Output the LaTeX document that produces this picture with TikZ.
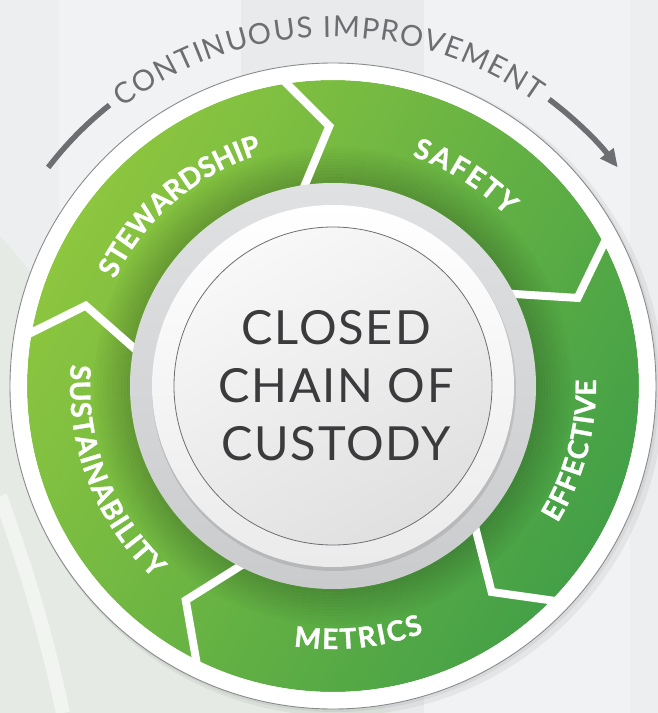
\documentclass[tikz,border=0pt]{standalone}
\usepackage{fontspec}
\setmainfont{Lato}
\newfontfamily\heavyfont[FakeBold=1.3]{Lato}
\usetikzlibrary{decorations.text,arrows.meta}
\definecolor{bgA}{HTML}{ECEEEF}
\definecolor{bgB}{HTML}{F0F2F3}
\definecolor{bgC}{HTML}{E8EAEB}
\definecolor{paleg}{HTML}{E5EBE4}
\definecolor{swoosh}{HTML}{F1F4F0}
\definecolor{rimline}{HTML}{8A8B8D}
\definecolor{gLight}{HTML}{8DC63F}
\definecolor{gDark}{HTML}{43A047}
\definecolor{bzTop}{HTML}{E0E1E3}
\definecolor{bzBot}{HTML}{CACBCD}
\definecolor{ringBot}{HTML}{EBEBEC}
\definecolor{discTop}{HTML}{F8F8F8}
\definecolor{discBot}{HTML}{E0E0E1}
\definecolor{txtdark}{HTML}{3B3B3D}
\definecolor{arrowgrey}{HTML}{6D6E71}
\newcommand\labelfnt{\heavyfont\bfseries\fontsize{28}{28}\selectfont\color{white}}
\newcommand\topfnt{\fontsize{29}{29}\selectfont\color{arrowgrey}}
\tikzset{
  gap/.style={white, line width=8pt, line join=miter},
  arcline/.style={arrowgrey, line width=5.5pt},
  lbl/.style={decorate, decoration={text along path, text align={fit to path}, text={|\labelfnt|#1}}},
  toptext/.style={decorate, decoration={text along path, text align={fit to path}, text={|\topfnt|#1}}}
}
\begin{document}
\begin{tikzpicture}[x=1pt,y=1pt]
\useasboundingbox (-333,-327) rectangle (325,386);
% background
\fill[bgA] (-333,-327) rectangle (325,386);
\fill[bgB] (-274,-327) rectangle (-92,386);
\fill[bgC] (-92,-327) rectangle (91,386);
\fill[bgB] (91,-327) rectangle (297,386);
\fill[paleg] (-333,150) .. controls (-250,60) and (-60,-250) .. (60,-327) -- (-333,-327) -- cycle;
\draw[swoosh, line width=14pt] (-333,-110) .. controls (-300,-200) and (-282,-270) .. (-270,-327);
% outer rim with shadow
\fill[black, opacity=.05] (5,-4) circle[radius=326];
\fill[black, opacity=.05] (2,-2) circle[radius=324];
\fill[white] (0,0) circle[radius=323];
\draw[rimline, line width=0.9pt] (0,0) circle[radius=323];
% green ring
\shade[top color=gLight, bottom color=gDark, shading angle=60] (0,0) circle[radius=306];
\foreach \i [evaluate=\i as \op using 0.015*(12-\i)] in {0,...,11}
  \draw[black, opacity=\op, line width=3pt] (0,0) circle[radius={204.5+3*\i}];
% white chevron gaps
\foreach \t in {100.3, 29.3, -42.9, -115, 171.5}
  \draw[gap] (\t:318) -- ({\t-9.5}:260) -- (\t:190);
\draw[white, line width=2pt] (0,0) circle[radius=307];
% bezel and centre disc
\shade[top color=bzTop, bottom color=bzBot] (0,0) circle[radius=203];
\fill[black, opacity=.10] (1,-3) circle[radius=182];
\shade[top color=white, bottom color=ringBot] (0,0) circle[radius=181];
\shade[top color=discTop, bottom color=discBot, shading angle=30] (0,0) circle[radius=159];
\draw[arrowgrey, line width=0.8pt] (0,0) circle[radius=159];
\node[font=\fontsize{47}{58}\selectfont\addfontfeature{LetterSpace=4}, text=txtdark, align=center, inner sep=0pt] (title) at (3,0) {CLOSED\\CHAIN OF\\CUSTODY};
% segment labels
\path[lbl=STEWARDSHIP] (153.9:243) arc[start angle=153.9, end angle=108, radius=243];
\path[lbl=SAFETY] (71:243) arc[start angle=71, end angle=44.5, radius=243];
\path[lbl=EFFECTIVE] (-31.4:263) arc[start angle=-31.4, end angle=1.4, radius=263];
\path[lbl=METRICS] (-98.6:263) arc[start angle=-98.6, end angle=-69.8, radius=263];
\path[lbl=SUSTAINABILITY] (175.3:263) arc[start angle=175.3, end angle=227, radius=263];
% continuous improvement arc
\path[toptext={CONTINUOUS IMPROVEMENT}] (127:349) arc[start angle=127, end angle=54.5, radius=349];
\draw[arcline] (142.5:359) arc[start angle=142.5, end angle=128.5, radius=359];
\draw[arcline, -{Triangle[length=18pt,width=16pt]}] (53:359) arc[start angle=53, end angle=37.5, radius=359];
\end{tikzpicture}
\end{document}
